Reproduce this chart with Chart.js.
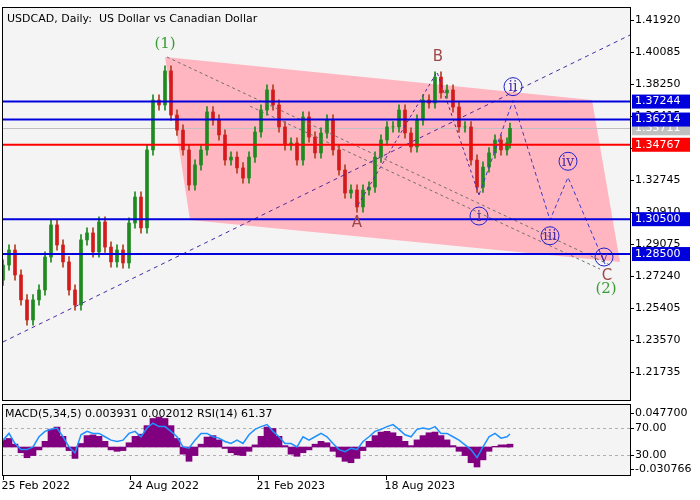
<!DOCTYPE html>
<html>
<head>
<meta charset="utf-8">
<script src="https://cdn.jsdelivr.net/npm/chart.js@4/dist/chart.umd.min.js"></script>
<style>
  body { margin: 0; background: #fff; }
  #wrap { position: relative; width: 700px; height: 500px; }
  canvas { position: absolute; left: 0; }
  #mainChart { top: 0; }
  #subChart { top: 402px; }
</style>
</head>
<body>
<div id="wrap">
  <canvas id="mainChart" width="700" height="402"></canvas>
  <canvas id="subChart" width="700" height="98"></canvas>
</div>
<script>
// bar index (days from 25 Feb 2022), sampled about every 6 days
const barDays = [0,6,12,18,24,30,36,42,48,54,60,66,72,78,84,90,96,102,108,114,120,126,132,138,144,150,156,162,168,174,
  180,186,192,198,204,210,216,222,228,234,240,246,252,258,264,270,276,282,288,294,300,306,312,318,324,330,336,342,348,354,
  360,366,372,378,384,390,396,402,408,414,420,426,432,438,444,450,456,462,468,474,480,486,492,498,504,507];
const closes = [1.2787,1.2873,1.2730,1.2587,1.2472,1.2587,1.2644,1.2833,1.3017,1.2902,1.2805,1.2644,1.2558,1.2931,1.2971,
  1.2862,1.3034,1.2890,1.2805,1.2873,1.2799,1.3028,1.3177,1.3000,1.3447,1.3733,1.3705,1.3900,1.3647,1.3561,
  1.3447,1.3246,1.3361,1.3447,1.3665,1.3619,1.3533,1.3389,1.3406,1.3344,1.3286,1.3406,1.3550,1.3676,1.3791,
  1.3705,1.3579,1.3475,1.3487,1.3389,1.3636,1.3521,1.3430,1.3544,1.3619,1.3447,1.3332,1.3200,1.3217,1.3120,
  1.3217,1.3234,1.3406,1.3504,1.3579,1.3579,1.3676,1.3544,1.3464,1.3619,1.3733,1.3716,1.3865,1.3774,1.3791,
  1.3693,1.3579,1.3579,1.3389,1.3234,1.3349,1.3430,1.3504,1.3447,1.3487,1.3571];
const firstOpen = 1.2700;
const macdHist = [0.010,0.012,0.004,-0.008,-0.015,-0.012,-0.004,0.008,0.025,0.028,0.015,-0.005,-0.016,0.005,0.016,
  0.017,0.015,0.008,-0.004,-0.006,-0.005,0.006,0.015,0.018,0.030,0.040,0.042,0.040,0.030,0.012,
  -0.010,-0.020,-0.012,0.004,0.014,0.016,0.010,-0.002,-0.008,-0.011,-0.012,-0.006,0.003,0.015,0.028,
  0.026,0.015,0.002,-0.010,-0.013,-0.008,-0.004,0.004,0.008,0.006,-0.006,-0.014,-0.020,-0.022,-0.016,
  -0.005,0.008,0.016,0.021,0.022,0.020,0.015,0.008,0.002,0.010,0.016,0.020,0.021,0.016,0.010,
  0.002,-0.006,-0.012,-0.022,-0.028,-0.018,-0.006,0.001,0.003,0.003,0.004];
const rsi = [52,62,47,38,38,42,57,65,68,70,57,42,33,60,65,62,62,57,52,50,52,62,65,57,70,77,72,72,65,57,
  42,40,52,62,62,57,55,50,47,52,47,60,68,72,75,65,57,47,47,42,57,52,57,62,57,47,38,35,40,38,
  50,57,65,68,72,75,68,60,57,68,70,68,72,62,62,57,52,45,38,26,42,57,62,55,57,61];

const priceTicks = [1.41920,1.40085,1.38250,1.36415,1.34580,1.32745,1.30910,1.29075,1.27240,1.25405,1.23570,1.21735];
const blueLevels = [1.37244,1.36214,1.30500,1.28500];
const redLevel = 1.34767;
const lastPrice = 1.35711;
const dateTicks = [[0,'25 Feb 2022'],[127,'24 Aug 2022'],[255,'21 Feb 2023'],[383,'18 Aug 2023']];

// wave structure: [day, price]
const channel = [[162,1.3980],[589,1.3733],[617,1.2805],[187,1.3045]];
const trendUp = [[0,1.2346],[627,1.4106]];
const grey1 = [[164,1.3980],[607,1.2787]];
const grey2 = [[247,1.3698],[597,1.2764]];
const waveAB = [[355,1.3131],[434,1.3894],[476,1.3189]];
const projection = [[476,1.3189],[510,1.3730],[547,1.3045],[565,1.3290],[602,1.2793]];
const waveLabels = [
  {t:'(1)', d:162, p:1.4055, c:'#3a9a3a', f:'15px "DejaVu Serif"'},
  {t:'B', d:435, p:1.3980, c:'#a04848', f:'15px "DejaVu Sans"'},
  {t:'A', d:354, p:1.3030, c:'#a04848', f:'15px "DejaVu Sans"'},
  {t:'C', d:604, p:1.2724, c:'#a04848', f:'15px "DejaVu Sans"'},
  {t:'(2)', d:603, p:1.2650, c:'#3a9a3a', f:'15px "DejaVu Serif"'}
];
const circles = [['ii',510,1.3810],['i',476,1.3068],['iii',547,1.2955],['iv',565,1.3382],['v',601,1.2833]];

const XMAX = 627;
const opens = closes.map((c, i) => i === 0 ? firstOpen : closes[i - 1]);
const toPts = arr => arr.map(p => ({x: p[0], y: p[1]}));

function dashLine(data, color, dash) {
    return {type: 'line', data: toPts(data), borderColor: color, borderWidth: 1, borderDash: dash,
        pointRadius: 0, fill: false, tension: 0, order: 1};
}

const mainOverlay = {
    id: 'mainOverlay',
    beforeDatasetsDraw(chart) {
        const {ctx, chartArea: a, scales: {x, y}} = chart;
        ctx.save();
        ctx.fillStyle = '#f4f4f4';
        ctx.fillRect(a.left, a.top, a.width, a.height);
        ctx.beginPath();
        channel.forEach((p, i) => {
            const px = x.getPixelForValue(p[0]), py = y.getPixelForValue(p[1]);
            i ? ctx.lineTo(px, py) : ctx.moveTo(px, py);
        });
        ctx.closePath();
        ctx.fillStyle = '#ffb6c1';
        ctx.fill();
        // grey last price
        ctx.strokeStyle = '#c0c0c0'; ctx.lineWidth = 1;
        let py = Math.round(y.getPixelForValue(lastPrice)) + 0.5;
        ctx.beginPath(); ctx.moveTo(a.left, py); ctx.lineTo(a.right, py); ctx.stroke();
        ctx.restore();
    },
    afterDatasetsDraw(chart) {
        const {ctx, chartArea: a, scales: {x, y}} = chart;
        ctx.save();
        ctx.lineWidth = 2;
        blueLevels.forEach(v => {
            const py = y.getPixelForValue(v);
            ctx.strokeStyle = '#0000dd';
            ctx.beginPath(); ctx.moveTo(a.left, py); ctx.lineTo(a.right, py); ctx.stroke();
        });
        ctx.strokeStyle = '#ff0000';
        let ry = y.getPixelForValue(redLevel);
        ctx.beginPath(); ctx.moveTo(a.left, ry); ctx.lineTo(a.right, ry); ctx.stroke();

        waveLabels.forEach(l => {
            ctx.font = l.f; ctx.fillStyle = l.c; ctx.textAlign = 'center'; ctx.textBaseline = 'middle';
            ctx.fillText(l.t, x.getPixelForValue(l.d), y.getPixelForValue(l.p));
        });
        circles.forEach(c => {
            const cx = x.getPixelForValue(c[1]), cy = y.getPixelForValue(c[2]);
            ctx.lineWidth = 1; ctx.strokeStyle = '#2020d0';
            ctx.beginPath(); ctx.arc(cx, cy, 9, 0, Math.PI * 2); ctx.stroke();
            ctx.font = '14px "DejaVu Serif"'; ctx.fillStyle = '#4a2aa0';
            ctx.textAlign = 'center'; ctx.textBaseline = 'middle';
            ctx.fillText(c[0], cx, cy + 1);
        });

        // frame
        ctx.lineWidth = 1; ctx.strokeStyle = '#000';
        ctx.strokeRect(a.left - 0.5, a.top - 0.5, a.width + 1, a.height + 1);
        ctx.font = '11px "DejaVu Sans"'; ctx.fillStyle = '#000';
        ctx.textAlign = 'left'; ctx.textBaseline = 'middle';
        ctx.fillText('USDCAD, Daily:  US Dollar vs Canadian Dollar', a.left + 4, a.top + 11);

        // right axis
        ctx.font = '11px "DejaVu Sans"';
        priceTicks.forEach(v => {
            const py = Math.round(y.getPixelForValue(v)) + 0.5;
            ctx.beginPath(); ctx.moveTo(a.right, py); ctx.lineTo(a.right + 4, py); ctx.stroke();
            ctx.fillStyle = '#000';
            ctx.fillText(v.toFixed(5), a.right + 5, py);
        });
        const box = (v, bg, fg) => {
            const py = y.getPixelForValue(v);
            ctx.fillStyle = bg; ctx.fillRect(a.right + 2, py - 7, 58, 14);
            ctx.fillStyle = fg; ctx.fillText(v.toFixed(5), a.right + 5, py);
        };
        box(lastPrice, '#c0c0c0', '#ffffff');
        blueLevels.forEach(v => box(v, '#0000dd', '#ffffff'));
        box(redLevel, '#ff0000', '#ffffff');
        ctx.restore();
    }
};

new Chart(document.getElementById('mainChart').getContext('2d'), {
    type: 'bar',
    data: {
        datasets: [
            {type: 'bar', data: barDays.map((d, i) => ({x: d, y: [Math.min(opens[i], closes[i]) - 0.003, Math.max(opens[i], closes[i]) + 0.003]})),
             backgroundColor: ctx => closes[ctx.dataIndex] >= opens[ctx.dataIndex] ? '#1f8a1f' : '#b04020',
             barThickness: 1, grouped: false, order: 3},
            {type: 'bar', data: barDays.map((d, i) => ({x: d, y: [opens[i], closes[i]]})),
             backgroundColor: ctx => closes[ctx.dataIndex] >= opens[ctx.dataIndex] ? '#1f8a1f' : '#d41a1a',
             barThickness: 3, grouped: false, order: 2},
            dashLine(trendUp, '#4a2aa0', [4, 4]),
            dashLine(grey1, '#707070', [3, 3]),
            dashLine(grey2, '#707070', [3, 3]),
            dashLine(waveAB, '#4a2aa0', [3, 3]),
            dashLine(projection, '#3a3ad0', [4, 3])
        ]
    },
    options: {
        responsive: false, animation: false,
        layout: {padding: {left: 3, right: 70, top: 8, bottom: 2}},
        plugins: {legend: {display: false}, tooltip: {enabled: false}},
        scales: {
            x: {type: 'linear', min: 0, max: XMAX, offset: false, display: false},
            y: {min: 1.2013, max: 1.4261, display: false}
        }
    },
    plugins: [mainOverlay]
});

const subOverlay = {
    id: 'subOverlay',
    beforeDatasetsDraw(chart) {
        const {ctx, chartArea: a, scales: {yRsi}} = chart;
        ctx.save();
        ctx.fillStyle = '#f4f4f4';
        ctx.fillRect(a.left, a.top, a.width, a.height);
        ctx.strokeStyle = '#b0b0b0'; ctx.setLineDash([3, 3]); ctx.lineWidth = 1;
        [70, 30].forEach(v => {
            const py = Math.round(yRsi.getPixelForValue(v)) + 0.5;
            ctx.beginPath(); ctx.moveTo(a.left, py); ctx.lineTo(a.right, py); ctx.stroke();
        });
        ctx.restore();
    },
    afterDatasetsDraw(chart) {
        const {ctx, chartArea: a, scales: {x, yMacd, yRsi}} = chart;
        ctx.save();
        ctx.strokeStyle = '#000'; ctx.lineWidth = 1;
        ctx.strokeRect(a.left - 0.5, a.top - 0.5, a.width + 1, a.height + 1);
        ctx.font = '11px "DejaVu Sans"'; ctx.fillStyle = '#000';
        ctx.textAlign = 'left'; ctx.textBaseline = 'middle';
        ctx.fillText('MACD(5,34,5) 0.003931 0.002012 RSI(14) 61.37', a.left + 2, a.top + 9);
        const lab = (py, t) => {
            py = Math.round(py) + 0.5;
            ctx.beginPath(); ctx.moveTo(a.right, py); ctx.lineTo(a.right + 4, py); ctx.stroke();
            ctx.fillText(t, a.right + 5, py);
        };
        lab(yMacd.getPixelForValue(0.0477), '0.047700');
        lab(yRsi.getPixelForValue(70), '70.00');
        lab(yRsi.getPixelForValue(30), '30.00');
        lab(yMacd.getPixelForValue(-0.030766), '-0.030766');
        ctx.textBaseline = 'top';
        dateTicks.forEach(t => {
            const px = Math.round(x.getPixelForValue(t[0])) + 0.5;
            ctx.beginPath(); ctx.moveTo(px, a.bottom); ctx.lineTo(px, a.bottom + 5); ctx.stroke();
            ctx.fillText(t[1], px - 2, a.bottom + 6);
        });
        ctx.restore();
    }
};

new Chart(document.getElementById('subChart').getContext('2d'), {
    type: 'bar',
    data: {
        datasets: [
            {type: 'bar', data: barDays.map((d, i) => ({x: d, y: macdHist[i]})), yAxisID: 'yMacd',
             backgroundColor: '#800080', barThickness: 6, grouped: false, order: 2},
            {type: 'line', data: barDays.map((d, i) => ({x: d, y: rsi[i]})), yAxisID: 'yRsi',
             borderColor: '#1e90ff', borderWidth: 1.5, pointRadius: 0, tension: 0, order: 1}
        ]
    },
    options: {
        responsive: false, animation: false,
        layout: {padding: {left: 3, right: 70, top: 3, bottom: 25}},
        plugins: {legend: {display: false}, tooltip: {enabled: false}},
        scales: {
            x: {type: 'linear', min: 0, max: XMAX, offset: false, display: false},
            yMacd: {axis: 'y', min: -0.0392, max: 0.0589, display: false},
            yRsi: {axis: 'y', min: 0.4, max: 104, display: false}
        }
    },
    plugins: [subOverlay]
});
</script>
</body>
</html>
